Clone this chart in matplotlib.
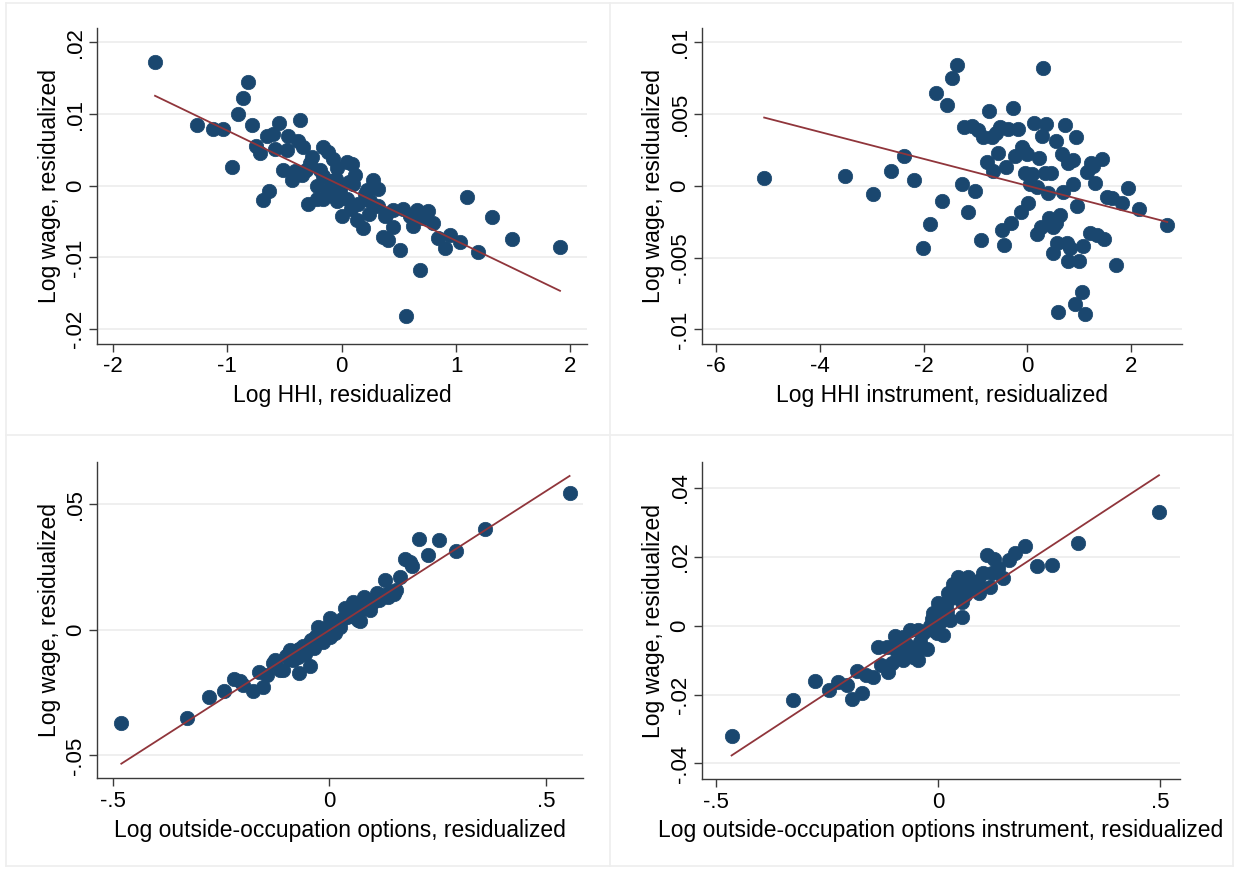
import numpy as np
import matplotlib
matplotlib.use("Agg")
import matplotlib.pyplot as plt
from matplotlib.lines import Line2D

plt.rcParams['font.family'] = ['Liberation Sans', 'DejaVu Sans']

# ---- data ----
hhi_x = [-1.633, -1.262, -1.122, -1.035, -0.962, -0.904, -0.860, -0.816, -0.781, -0.752,
         -0.714, -0.691, -0.633, -0.656, -0.603, -0.545, -0.583, -0.467, -0.481, -0.365,
         -0.380, -0.336, -0.511, -0.409, -0.437, -0.350, -0.312, -0.277, -0.262, -0.190,
         -0.161, -0.117, -0.073, -0.044, 0.044, 0.087, 0.116, -0.219, -0.117, -0.015,
         -0.160, -0.100, 0.044, 0.100, 0.277, 0.320, 0.219, -0.292, -0.219, -0.161,
         -0.044, -0.073, 0.145, 0.248, 0.320, 0.000, 0.131, 0.189, 0.379, 0.452,
         0.539, 0.452, 0.364, 0.408, 0.621, 0.656, 0.758, 0.802, 0.510, 0.685,
         0.563, 0.845, 0.904, 0.947, 1.035, 1.195, 1.099, 1.312, 1.493, 1.910,
         0.060, 0.200, -0.050, 0.080, 0.240, 0.600, 0.710, 0.390]
hhi_y = [0.0172, 0.0085, 0.0079, 0.0079, 0.0026, 0.0100, 0.0122, 0.0144, 0.0085, 0.0055,
         0.0046, -0.0020, -0.0007, 0.0069, 0.0072, 0.0088, 0.0051, 0.0069, 0.0050, 0.0091,
         0.0063, 0.0054, 0.0022, 0.0020, 0.0008, 0.0015, 0.0022, 0.0031, 0.0040, 0.0022,
         0.0054, 0.0047, 0.0037, 0.0024, 0.0033, 0.0030, 0.0015, -0.0001, -0.0008, -0.0006,
         0.0013, 0.0006, -0.0018, 0.0003, 0.0008, -0.0004, -0.0006, -0.0025, -0.0018, -0.0018,
         -0.0022, -0.0015, -0.0025, -0.0022, -0.0029, -0.0043, -0.0048, -0.0059, -0.0043, -0.0034,
         -0.0032, -0.0057, -0.0071, -0.0076, -0.0056, -0.0034, -0.0036, -0.0052, -0.0090, -0.0118,
         -0.0182, -0.0073, -0.0087, -0.0069, -0.0078, -0.0093, -0.0016, -0.0044, -0.0074, -0.0085,
         0.0005, -0.0012, 0.0009, -0.0032, -0.0040, -0.0043, -0.0045, -0.0041]

hhi_iv_x = [-5.07, -3.506, -2.979, -2.632, -2.376, -2.177, -2.010, -1.875, -1.759, -1.637,
            -1.541, -1.445, -1.361, -1.265, -1.220, -1.136, -1.072, -1.008, -0.944, -0.892,
            -0.848, -0.783, -0.738, -0.687, -0.655, -0.604, -0.559, -0.526, -0.494, -0.449,
            -0.411, -0.366, -0.315, -0.283, -0.238, -0.173, -0.122, -0.096, -0.045, -0.013,
            0.019, 0.051, 0.083, 0.128, 0.180, 0.193, 0.231, 0.257, 0.276, 0.308,
            0.340, 0.360, 0.404, 0.424, 0.488, 0.500, 0.552, 0.565, 0.597, 0.629,
            0.661, 0.693, 0.726, 0.758, 0.777, 0.790, 0.822, 0.873, 0.886, 0.918,
            0.937, 0.963, 1.002, 1.047, 1.079, 1.111, 1.156, 1.207, 1.258, 1.303,
            1.335, 1.432, 1.477, 1.528, 1.624, 1.708, 1.817, 1.945, 2.157, 2.697,
            -0.060, 0.450, 0.560, 1.230]
hhi_iv_y = [0.00053, 0.0007, -0.00058, 0.0010, 0.0021, 0.0004, -0.00434, -0.0027, 0.00643, -0.00107,
            0.00561, 0.00747, 0.00842, 0.0001, 0.0041, -0.00183, 0.00415, -0.0004, 0.00387, -0.00378,
            0.00336, 0.00167, 0.0052, 0.00341, 0.0010, 0.00364, 0.0023, 0.00406, -0.00309, -0.00411,
            0.00128, 0.00392, -0.00262, 0.00543, 0.00206, 0.00392, -0.00181, 0.00271, 0.0009, 0.0022,
            -0.00123, 0.0001, 0.00081, 0.00434, -0.0001, -0.00336, 0.0019, -0.0029, 0.00346, 0.00821,
            0.00086, 0.00429, -0.00053, -0.00227, -0.00285, -0.00471, 0.00313, -0.00397, -0.00877, -0.00204,
            0.0022, -0.00042, 0.00422, -0.00401, 0.00155, -0.00522, -0.00436, 0.00179, 0.0001, -0.00824,
            0.00341, -0.00139, -0.00522, -0.00738, -0.0042, -0.00893, 0.00097, -0.00332, 0.00137, 0.00016,
            -0.00343, 0.00183, -0.00374, -0.00081, -0.00088, -0.00552, -0.00123, -0.00019, -0.00162, -0.00274,
            0.0024, 0.0009, -0.0026, 0.0016]

occ_x = [-0.480, -0.329, -0.277, -0.243, -0.220, -0.198, -0.205, -0.175, -0.152, -0.162,
         -0.144, -0.129, -0.125, -0.114, -0.106, -0.094, -0.091, -0.083, -0.072, -0.069,
         -0.060, -0.045, -0.045, -0.043, -0.025, -0.018, 0.002, 0.002, 0.013, 0.025,
         0.036, 0.055, 0.067, 0.072, 0.079, 0.094, 0.109, 0.128, 0.140, 0.163,
         0.174, 0.186, 0.190, 0.207, 0.228, 0.254, 0.293, 0.360, 0.5545,
         -0.100, -0.090, -0.080, -0.070, -0.060, -0.055, -0.050, -0.035, -0.030, -0.020,
         -0.010, -0.005, 0.005, 0.010, 0.015, 0.020, 0.030, 0.040, 0.045, 0.050,
         0.060, 0.065, 0.075, 0.085, 0.090, 0.100, 0.105, 0.115, 0.120, 0.125,
         0.135, 0.145, 0.150, 0.155, -0.035, -0.015]
occ_y = [-0.0372, -0.0352, -0.0266, -0.0243, -0.0195, -0.0219, -0.0205, -0.0242, -0.0226, -0.0166,
         -0.0179, -0.0133, -0.0120, -0.0159, -0.0159, -0.0093, -0.0080, -0.0120, -0.0106, -0.0170,
         -0.0080, -0.0143, -0.0053, -0.0040, 0.0013, -0.0040, 0.0047, -0.0027, -0.0013, 0.0013,
         0.0086, 0.0113, 0.0040, 0.0035, 0.0133, 0.0080, 0.0146, 0.0197, 0.0153, 0.0212,
         0.0282, 0.0272, 0.0255, 0.0363, 0.0299, 0.0359, 0.0316, 0.0401, 0.0544,
         -0.0105, -0.0115, -0.0085, -0.0075, -0.0065, -0.0095, -0.0060, -0.0045, -0.0025, -0.0015,
         -0.0005, 0.0010, 0.0005, 0.0020, 0.0030, 0.0025, 0.0045, 0.0050, 0.0065, 0.0055,
         0.0075, 0.0090, 0.0085, 0.0100, 0.0115, 0.0110, 0.0125, 0.0120, 0.0135, 0.0140,
         0.0130, 0.0150, 0.0145, 0.0160, -0.0070, -0.0050]

occ_iv_x = [-0.4647, -0.3259, -0.2769, -0.2449, -0.2242, -0.2054, -0.1931, -0.1720, -0.1818, -0.1611,
            -0.1470, -0.1348, -0.1272, -0.1122, -0.1156, -0.1046, -0.0971, -0.0933, -0.0858, -0.0783,
            -0.0783, -0.0670, -0.0632, -0.0557, -0.0519, -0.0444, -0.0444, -0.0406, -0.0331, -0.0241,
            -0.0180, -0.0105, -0.0105, -0.0030, 0.0008, 0.0083, 0.0121, 0.0121, 0.0196, 0.0196,
            0.0234, 0.0271, 0.0347, 0.0422, 0.0457, 0.0535, 0.0535, 0.0608, 0.0683, 0.0720,
            0.0799, 0.0930, 0.1006, 0.1095, 0.1171, 0.1209, 0.1260, 0.1354, 0.1467, 0.1608,
            0.1731, 0.1957, 0.2220, 0.2578, 0.3162, 0.4977,
            0.0328, 0.0516, 0.0610, 0.0705, 0.0893, 0.0046, -0.0708, -0.0143]
occ_iv_y = [-0.0320, -0.0216, -0.0160, -0.0187, -0.0163, -0.0172, -0.0213, -0.0196, -0.0131, -0.0143,
            -0.0148, -0.0061, -0.0114, -0.0134, -0.0061, -0.0109, -0.0030, -0.0075, -0.0049, -0.0100,
            -0.0032, -0.0075, -0.0013, -0.0090, -0.0070, -0.0100, -0.0012, -0.0046, -0.0022, -0.0069,
            -0.0001, 0.0036, -0.0012, -0.0020, 0.0067, 0.0026, 0.0041, -0.0027, 0.0044, 0.0070,
            0.0094, 0.0016, 0.0082, 0.0104, 0.0140, 0.0070, 0.0026, 0.0115, 0.0142, 0.0104,
            0.0118, 0.0094, 0.0152, 0.0205, 0.0113, 0.0152, 0.0193, 0.0166, 0.0137, 0.0191,
            0.0210, 0.0231, 0.0173, 0.0175, 0.0239, 0.0331,
            0.0120, 0.0125, 0.0090, 0.0120, 0.0130, 0.0010, -0.0055, 0.0020]

# fitted lines (slope, intercept) as drawn in the figure
fit_hhi = (-0.00768, 0.0)
fit_hhi_iv = (-0.000936, 0.0)
fit_occ = (0.1108, -0.0001)
fit_occ_iv = (0.0845, 0.0016)

ylabel = "Log wage, residualized"
xlabels = ["Log HHI, residualized",
           "Log HHI instrument, residualized",
           "Log outside-occupation options, residualized",
           "Log outside-occupation options instrument, residualized"]

xticks_hhi = [-2, -1, 0, 1, 2]
yticks_hhi = [0.02, 0.01, 0, -0.01, -0.02]
yticklabels_hhi = [".02", ".01", "0", "-.01", "-.02"]
xticks_hhi_iv = [-6, -4, -2, 0, 2]
yticks_hhi_iv = [0.01, 0.005, 0, -0.005, -0.01]
yticklabels_hhi_iv = [".01", ".005", "0", "-.005", "-.01"]
xticks_occ = [-0.5, 0, 0.5]
xticklabels_occ = ["-.5", "0", ".5"]
yticks_occ = [0.05, 0, -0.05]
yticklabels_occ = [".05", "0", "-.05"]
yticks_occ_iv = [0.04, 0.02, 0, -0.02, -0.04]
yticklabels_occ_iv = [".04", ".02", "0", "-.02", "-.04"]

NAVY = "#1a476f"
MAROON = "#90353b"
W, H = 1246, 869

fig = plt.figure(figsize=(W / 100, H / 100), dpi=100)
fig.patch.set_facecolor("white")


def make_ax(l, r, t, b):
    return fig.add_axes([l / W, 1 - b / H, (r - l) / W, (b - t) / H])


def panel(ax, x, y, fit, xlim, ylim, xt, xtl, yt, ytl, xlab):
    ax.set_xlim(*xlim)
    ax.set_ylim(*ylim)
    for yy in yt:
        ax.axhline(yy, color="#ececec", lw=1.2, zorder=0)
    ax.scatter(x, y, s=108, color=NAVY, edgecolors=NAVY, linewidths=0.5, zorder=2)
    xs = np.array([min(x), max(x)])
    ax.plot(xs, fit[0] * xs + fit[1], color=MAROON, lw=1.3, zorder=3)
    for s in ["top", "right"]:
        ax.spines[s].set_visible(False)
    for s in ["left", "bottom"]:
        ax.spines[s].set_color("#3a3a3a")
        ax.spines[s].set_linewidth(1.0)
    ax.set_xticks(xt)
    ax.set_xticklabels(xtl)
    ax.set_yticks(yt)
    ax.set_yticklabels(ytl, rotation=90, va="center")
    ax.tick_params(direction="out", length=6, width=1.0, color="#3a3a3a",
                   labelsize=16, pad=3)
    ax.tick_params(axis="y", pad=2)
    ax.set_xlabel(xlab, fontsize=16.5, labelpad=5)
    ax.set_ylabel(ylabel, fontsize=16.5, labelpad=3)


ax1 = make_ax(97.3, 587, 28, 344)
panel(ax1, hhi_x, hhi_y, fit_hhi, (-2.138, 2.146), (-0.02209, 0.0220),
      xticks_hhi, [str(v) for v in xticks_hhi], yticks_hhi, yticklabels_hhi, xlabels[0])

ax2 = make_ax(701.7, 1181.7, 28, 344)
panel(ax2, hhi_iv_x, hhi_iv_y, fit_hhi_iv, (-6.274, 2.975), (-0.01102, 0.01098),
      xticks_hhi_iv, [str(v) for v in xticks_hhi_iv], yticks_hhi_iv, yticklabels_hhi_iv, xlabels[1])

ax3 = make_ax(97.3, 583, 462, 778.3)
panel(ax3, occ_x, occ_y, fit_occ, (-0.5354, 0.5855), (-0.0591, 0.0669),
      xticks_occ, xticklabels_occ, yticks_occ, yticklabels_occ, xlabels[2])

ax4 = make_ax(701.7, 1180, 462, 779)
panel(ax4, occ_iv_x, occ_iv_y, fit_occ_iv, (-0.532, 0.545), (-0.0445, 0.0475),
      xticks_occ, xticklabels_occ, yticks_occ_iv, yticklabels_occ_iv, xlabels[3])

# light borders of the combined graph cells
for xx in [6, 610, 1233]:
    fig.add_artist(Line2D([xx / W, xx / W], [1 - 866 / H, 1 - 3 / H],
                          transform=fig.transFigure, color="#eeeeee", lw=1.2))
for yy in [3, 435, 866]:
    fig.add_artist(Line2D([6 / W, 1233 / W], [1 - yy / H, 1 - yy / H],
                          transform=fig.transFigure, color="#eeeeee", lw=1.2))

fig.savefig("out.png", dpi=100)
